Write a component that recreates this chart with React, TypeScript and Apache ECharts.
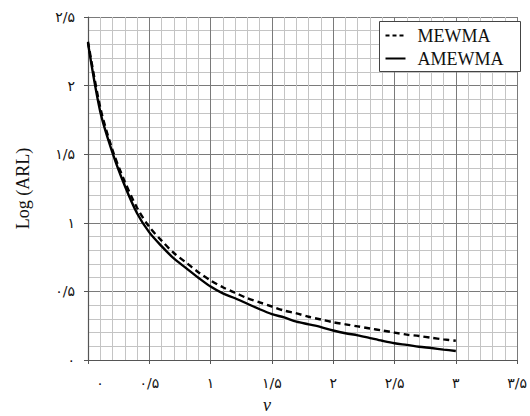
import React, { useEffect, useRef } from "react";
import * as echarts from "echarts";

const nu = [0, 0.1, 0.2, 0.3, 0.4, 0.5, 0.6, 0.7, 0.8, 0.9, 1.0, 1.1, 1.2, 1.3, 1.4, 1.5, 1.6, 1.7, 1.8, 1.9, 2.0, 2.1, 2.2, 2.3, 2.4, 2.5, 2.6, 2.7, 2.8, 2.9, 3.0];
const mewma = [2.32, 1.84, 1.53, 1.3, 1.11, 0.97, 0.87, 0.78, 0.71, 0.64, 0.58, 0.53, 0.49, 0.45, 0.42, 0.39, 0.36, 0.34, 0.315, 0.295, 0.275, 0.26, 0.245, 0.23, 0.215, 0.2, 0.185, 0.175, 0.162, 0.15, 0.14];
const amewma = [2.31, 1.81, 1.51, 1.27, 1.07, 0.93, 0.83, 0.74, 0.67, 0.6, 0.535, 0.485, 0.45, 0.41, 0.37, 0.335, 0.31, 0.28, 0.26, 0.24, 0.215, 0.195, 0.18, 0.16, 0.14, 0.122, 0.11, 0.097, 0.087, 0.076, 0.066];
const seriesNames = ["MEWMA", "AMEWMA"];
const yAxisTitle = "Log (ARL)";
const xAxisTitle = "ν";

const persianDigits = ["۰", "۱", "۲", "۳", "۴", "۵", "۶", "۷", "۸", "۹"];
function toPersian(v: number): string {
  const s = String(Math.round(v * 10) / 10);
  return s.replace(/[0-9]/g, (d) => persianDigits[Number(d)]).replace(".", "/");
}

export default function App() {
  const ref = useRef<HTMLDivElement>(null);
  useEffect(() => {
    if (!ref.current) return;
    const chart = echarts.init(ref.current, null, { renderer: "svg" });
    const labelFont = "DejaVu Sans";
    const serif = "Liberation Serif";
    chart.setOption({
      animation: false,
      backgroundColor: "#ffffff",
      grid: { left: 88, top: 17, right: 7, bottom: 56 },
      xAxis: {
        type: "value",
        min: 0,
        max: 3.5,
        interval: 0.5,
        axisLine: { show: true, onZero: false, lineStyle: { color: "#555", width: 1.2 } },
        axisTick: { show: true, length: 4, lineStyle: { color: "#555" } },
        minorTick: { show: false, splitNumber: 5 },
        splitLine: { show: true, lineStyle: { color: "#7a7a7a", width: 1 } },
        minorSplitLine: { show: true, lineStyle: { color: "#c4c4c4", width: 1 } },
        axisLabel: {
          margin: 16,
          fontFamily: labelFont,
          fontSize: 14,
          color: "#111",
          formatter: (v: number) => (v === 0 ? "{z|" + toPersian(v) + "}" : toPersian(v)),
          rich: { z: { padding: [0, 0, 0, 24], fontFamily: labelFont, fontSize: 14, color: "#111" } },
        },
      },
      yAxis: {
        type: "value",
        min: 0,
        max: 2.5,
        interval: 0.5,
        name: yAxisTitle,
        nameLocation: "middle",
        nameGap: 56,
        nameTextStyle: { fontFamily: serif, fontSize: 18, color: "#111" },
        axisLine: { show: true, onZero: false, lineStyle: { color: "#555", width: 1.2 } },
        axisTick: { show: true, length: 4, lineStyle: { color: "#555" } },
        minorTick: { show: false, splitNumber: 5 },
        splitLine: { show: true, lineStyle: { color: "#7a7a7a", width: 1 } },
        minorSplitLine: { show: true, lineStyle: { color: "#c4c4c4", width: 1 } },
        axisLabel: { margin: 13, fontFamily: labelFont, fontSize: 14, color: "#111", formatter: (v: number) => toPersian(v) },
      },
      graphic: [
        {
          type: "text",
          left: 263,
          top: 396,
          z: 100,
          style: { text: xAxisTitle, fontFamily: serif, fontStyle: "italic", fontSize: 18, fill: "#111" },
        },
        {
          type: "group",
          left: 379,
          top: 21,
          z: 100,
          children: [
            { type: "rect", z: 100, shape: { x: 0, y: 0, width: 141, height: 50 }, style: { fill: "#fff", stroke: "#444", lineWidth: 1 } },
            { type: "line", z: 101, shape: { x1: 6, y1: 14, x2: 26, y2: 14 }, style: { stroke: "#000", lineWidth: 2, lineDash: [4, 3] } },
            { type: "text", z: 101, x: 38, y: 14, style: { text: seriesNames[0], fontFamily: serif, fontSize: 18, fill: "#111", verticalAlign: "middle" } },
            { type: "line", z: 101, shape: { x1: 6, y1: 37, x2: 26, y2: 37 }, style: { stroke: "#000", lineWidth: 2 } },
            { type: "text", z: 101, x: 38, y: 37, style: { text: seriesNames[1], fontFamily: serif, fontSize: 18, fill: "#111", verticalAlign: "middle" } },
          ],
        },
      ],
      series: [
        {
          name: seriesNames[0],
          type: "line",
          showSymbol: false,
          symbol: "none",
          smooth: 0.3,
          data: nu.map((x, i) => [x, mewma[i]]),
          lineStyle: { color: "#000", width: 2.4, type: [6, 4] },
          itemStyle: { color: "#000" },
          z: 3,
        },
        {
          name: seriesNames[1],
          type: "line",
          showSymbol: false,
          symbol: "none",
          smooth: 0.3,
          data: nu.map((x, i) => [x, amewma[i]]),
          lineStyle: { color: "#000", width: 2.4, type: "solid" },
          itemStyle: { color: "#000" },
          z: 3,
        },
      ],
    });
    return () => chart.dispose();
  }, []);
  return <div ref={ref} style={{ position: "fixed", left: 0, top: 0, width: 530, height: 416, background: "#fff" }} />;
}
